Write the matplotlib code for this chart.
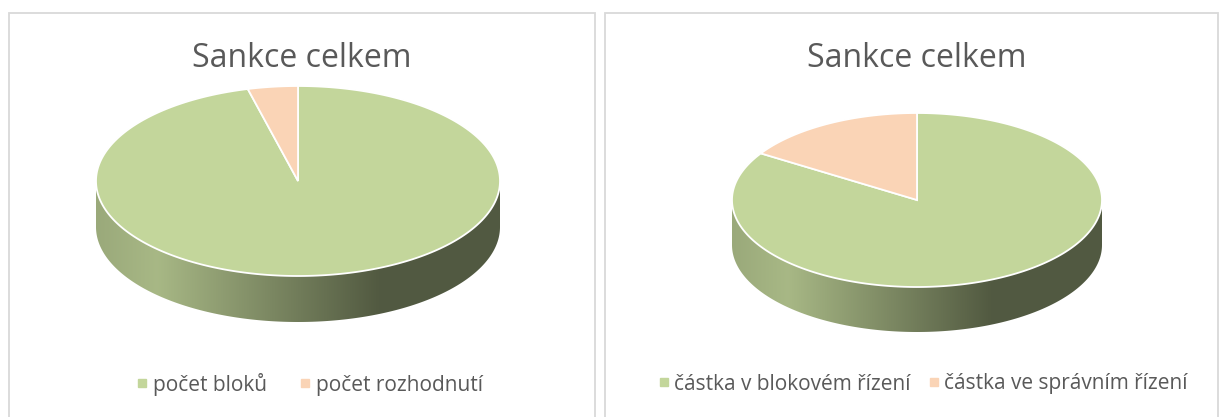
import numpy as np
import matplotlib.pyplot as plt
from matplotlib.patches import Polygon, Rectangle
from matplotlib.lines import Line2D
from matplotlib.colors import to_rgb

plt.rcParams['font.family'] = ['Open Sans', 'DejaVu Sans']

title = "Sankce celkem"
labels_left = ["počet bloků", "počet rozhodnutí"]
values_left = [96, 4]
labels_right = ["částka v blokovém řízení", "částka ve správním řízení"]
values_right = [84, 16]
colors = ["#c3d69b", "#fad4b6"]
text_color = "#595959"
border_color = "#d9d9d9"


def ell(cx, cy, rx, ry, th):
    # th: degrees clockwise from 12 o'clock, screen coords (y down)
    t = np.radians(th)
    return cx + rx * np.sin(t), cy - ry * np.cos(t)


def pie3d(ax, values, colors, cx, cy, rx, ry, depth):
    vals = np.asarray(values, float)
    edges = np.concatenate([[0], np.cumsum(vals / vals.sum()) * 360])
    # sides first (front half: 90..270 deg)
    for i in range(len(vals)):
        a0, a1 = max(edges[i], 90), min(edges[i + 1], 270)
        if a1 <= a0:
            continue
        th = np.linspace(a0, a1, 200)
        x, y = ell(cx, cy, rx, ry, th)
        pts = np.vstack([np.column_stack([x, y]),
                         np.column_stack([x[::-1], y[::-1] + depth])])
        poly = Polygon(pts, closed=True, facecolor="none", edgecolor="none")
        ax.add_patch(poly)
        base = np.array(to_rgb(colors[i]))
        f = np.interp(np.linspace(0, 1, 300), [0, 0.15, 0.7, 1], [0.79, 0.86, 0.42, 0.42])
        img = np.clip(base[None, :] * f[:, None], 0, 1)[None, :, :]
        im = ax.imshow(img, extent=[cx - rx, cx + rx, cy + ry + depth, cy - ry],
                       aspect="auto", interpolation="bilinear", zorder=1)
        im.set_clip_path(poly)
    # top face
    for i in range(len(vals)):
        th = np.linspace(edges[i], edges[i + 1], 300)
        x, y = ell(cx, cy, rx, ry, th)
        pts = np.vstack([[cx, cy], np.column_stack([x, y])])
        ax.add_patch(Polygon(pts, closed=True, facecolor=colors[i],
                             edgecolor="white", linewidth=1.3, zorder=2))


fig = plt.figure(figsize=(12.19, 4.17), dpi=100)
ax = fig.add_axes([0, 0, 1, 1])

panels = [
    (9, 595, 302, values_left, (298, 181, 202, 95, 46)),
    (605, 1218, 917, values_right, (917, 200, 185, 87, 45)),
]
for x0, x1, tx, values, geo in panels:
    ax.add_patch(Rectangle((x0, 13), x1 - x0, 420, facecolor="white",
                           edgecolor=border_color, linewidth=1.3, zorder=0))
    ax.text(tx, 58, title, ha="center", va="center", fontsize=23, color=text_color)
    pie3d(ax, values, colors, *geo)

handles = [Line2D([], [], marker="s", linestyle="none", markersize=5.5,
                  markerfacecolor=c, markeredgecolor=c) for c in colors]
leg1 = ax.legend(handles, labels_left, loc="center", bbox_to_anchor=(309, 384),
                 bbox_transform=ax.transData, ncol=2, frameon=False, fontsize=15,
                 labelcolor=text_color, handletextpad=0.15, columnspacing=1.5,
                 handlelength=0.7)
ax.add_artist(leg1)
ax.legend(handles, labels_right, loc="center", bbox_to_anchor=(922, 384),
          bbox_transform=ax.transData, ncol=2, frameon=False, fontsize=15,
          labelcolor=text_color, handletextpad=0.15, columnspacing=0.75,
          handlelength=0.7)

ax.set_xlim(0, 1219)
ax.set_ylim(417, 0)
ax.axis("off")
fig.savefig("out.png", dpi=100, facecolor="white")
